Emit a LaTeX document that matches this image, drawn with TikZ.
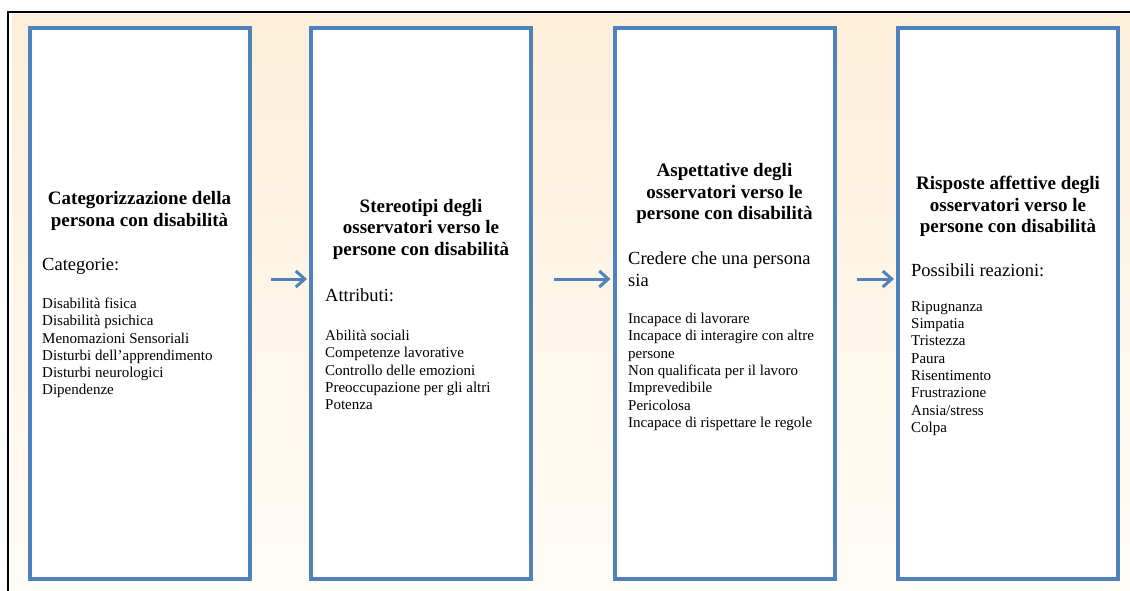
\documentclass[tikz,border=0pt]{standalone}
\usepackage{fontspec}
\setmainfont{Liberation Serif}
\usetikzlibrary{arrows.meta}
\definecolor{boxblue}{RGB}{79,129,189}
\definecolor{creamtop}{RGB}{253,239,217}
\definecolor{creambot}{RGB}{255,252,247}
\tikzset{
  panel/.style={draw=boxblue, fill=white, line width=4pt, minimum width=220pt, minimum height=551pt, inner sep=0pt},
  title/.style={align=center, font=\fontsize{19}{21.5}\selectfont\bfseries, inner sep=0pt},
  sub/.style={align=left, anchor=west, font=\fontsize{18.5}{22}\selectfont, inner sep=0pt},
  items/.style={align=left, anchor=west, font=\fontsize{15}{17.3}\selectfont, inner sep=0pt},
  flow/.style={draw=boxblue, line width=3pt, -{Straight Barb[length=9pt,width=16pt]}}
}
\begin{document}
\begin{tikzpicture}[x=1pt,y=-1pt]
\useasboundingbox (0,0) rectangle (1130,591);
\fill[top color=creamtop, bottom color=creambot] (12,15) rectangle (1130,591);
\draw[line width=1.5pt] (8,591) -- (8,12) -- (1130,12);

\node[panel] (b1) at (139.5,303.5) {};
\node[panel] (b2) at (421,303.5) {};
\node[panel] (b3) at (724.5,303.5) {};
\node[panel] (b4) at (1008,303.5) {};

\node[title] (t1) at (139.5,211) {Categorizzazione della\\persona con disabilità};
\node[sub] (s1) at (42,266) {Categorie:};
\node[items] (i1) at (42,348) {Disabilità fisica\\Disabilità psichica\\Menomazioni Sensoriali\\Disturbi dell’apprendimento\\Disturbi neurologici\\Dipendenze};

\node[title] (t2) at (421,229) {Stereotipi degli\\osservatori verso le\\persone con disabilità};
\node[sub] (s2) at (325,295) {Attributi:};
\node[items] (i2) at (325,370) {Abilità sociali\\Competenze lavorative\\Controllo delle emozioni\\Preoccupazione per gli altri\\Potenza};

\node[title] (t3) at (724.5,193.5) {Aspettative degli\\osservatori verso le\\persone con disabilità};
\node[sub] (s3) at (628,269) {Credere che una persona\\sia};
\node[items] (i3) at (628,372) {Incapace di lavorare\\Incapace di interagire con altre\\persone\\Non qualificata per il lavoro\\Imprevedibile\\Pericolosa\\Incapace di rispettare le regole};

\node[title] (t4) at (1008,206.5) {Risposte affettive degli\\osservatori verso le\\persone con disabilità};
\node[sub] (s4) at (911,270) {Possibili reazioni:};
\node[items] (i4) at (911,368.5) {Ripugnanza\\Simpatia\\Tristezza\\Paura\\Risentimento\\Frustrazione\\Ansia/stress\\Colpa};

\draw[flow] ([shift={(19pt,24.5pt)}]b1.east) -- ([shift={(-2pt,24.5pt)}]b2.west);
\draw[flow] ([shift={(21pt,24.5pt)}]b2.east) -- ([shift={(-2pt,24.5pt)}]b3.west);
\draw[flow] ([shift={(20pt,24.5pt)}]b3.east) -- ([shift={(-2pt,24.5pt)}]b4.west);
\end{tikzpicture}
\end{document}
